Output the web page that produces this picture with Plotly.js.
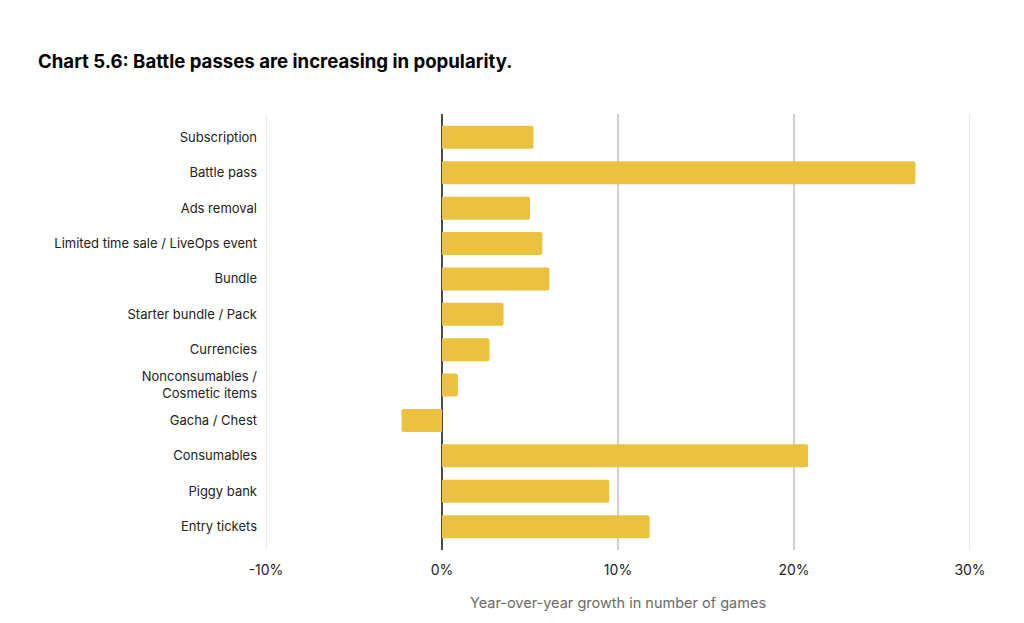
<!DOCTYPE html>
<html>
<head>
<meta charset="utf-8">
<script src="https://cdn.plot.ly/plotly-3.0.1.min.js"></script>
<style>
  html, body { margin: 0; padding: 0; background: #fff; }
  #chart { width: 1024px; height: 623px; }
</style>
</head>
<body>
<div id="chart"></div>
<script>
// Monetization features, top to bottom
const categories = [
  "Subscription",
  "Battle pass",
  "Ads removal",
  "Limited time sale / LiveOps event",
  "Bundle",
  "Starter bundle / Pack",
  "Currencies",
  "Nonconsumables /<br>Cosmetic items",
  "Gacha / Chest",
  "Consumables",
  "Piggy bank",
  "Entry tickets"
];

// Year-over-year growth in number of games (%)
const growth = [5.2, 26.9, 5.0, 5.7, 6.1, 3.5, 2.7, 0.9, -2.3, 20.8, 9.5, 11.8];

const tickValues = [-10, 0, 10, 20, 30];
const tickLabels = ["-10%", "0%", "10%", "20%", "30%"];

const barColor = "#EBC23F";
const fontFamily = "Inter, 'Open Sans', Roboto, sans-serif";

const trace = {
  type: "bar",
  orientation: "h",
  x: growth,
  y: categories,
  width: 0.65,
  marker: { color: barColor, cornerradius: 2 },
  hoverinfo: "x+y"
};

const layout = {
  width: 1024,
  height: 623,
  paper_bgcolor: "#ffffff",
  plot_bgcolor: "#ffffff",
  margin: { l: 266, r: 54, t: 114, b: 73 },
  font: { family: fontFamily, color: "#222222", size: 13 },
  title: {
    text: "<b>Chart 5.6: Battle passes are increasing in popularity.</b>",
    font: { family: fontFamily, size: 18.6, color: "#000000" },
    xref: "container",
    yref: "container",
    x: 38 / 1024,
    xanchor: "left",
    y: 1 - 61 / 623,
    yanchor: "middle"
  },
  xaxis: {
    range: [-10, 30],
    tickvals: tickValues,
    ticktext: tickLabels,
    showgrid: true,
    gridcolor: "#d0d0d0",
    gridwidth: 1.5,
    zeroline: true,
    zerolinecolor: "#4a4a4a",
    zerolinewidth: 1.5,
    showline: false,
    ticks: "",
    ticklabelstandoff: 10,
    tickfont: { size: 14, color: "#222222" },
    title: {
      text: "Year-over-year growth in number of games",
      font: { size: 14.5, color: "#6b6b6b" },
      standoff: 20
    },
    fixedrange: true
  },
  yaxis: {
    range: [11.66, -0.66],
    showgrid: false,
    zeroline: false,
    showline: false,
    ticks: "",
    ticklabelstandoff: 8,
    tickfont: { size: 13, color: "#222222" },
    fixedrange: true
  },
  showlegend: false
};

// light gridlines at both ends of the value range
layout.shapes = [-10, 30].map(v => ({
  type: "line", xref: "x", yref: "paper",
  x0: v, x1: v, y0: 0, y1: 1,
  line: { color: "#e0e0e0", width: 1.5 }
}));

Plotly.newPlot("chart", [trace], layout, { displayModeBar: false, staticPlot: true });
</script>
</body>
</html>
